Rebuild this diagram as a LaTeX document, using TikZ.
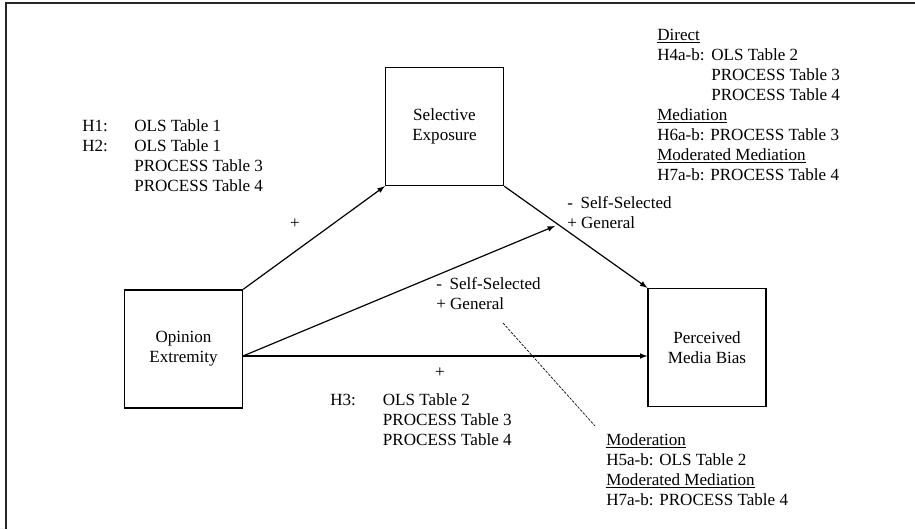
\documentclass[tikz,border=0pt]{standalone}
\usepackage{fontspec}
\setmainfont{Liberation Serif}
\usepackage{tikz}
\usetikzlibrary{positioning}

\tikzset{
  every node/.style={font=\fontsize{12.8}{15}\selectfont, inner sep=0pt},
  varbox/.style={draw, line width=1pt, minimum width=88.5pt, minimum height=88.5pt, align=center},
  path/.style={line width=0.9pt, ->, >=latex},
  note/.style={anchor=base west, align=left}
}

\begin{document}
\begin{tikzpicture}[x=0.75pt,y=-0.75pt]
\useasboundingbox (0,0) rectangle (915,529);
\draw [line width=1.5pt, black!85] (6,529) -- (6,3) -- (915,3);

% the three variables
\node [varbox] (opinion) at (183.5,349) {Opinion\\Extremity};
\node [varbox] (selective) at (444.5,126.5) {Selective\\Exposure};
\node [varbox] (bias) at (707,347.5) {Perceived\\Media Bias};

\coordinate (oe) at (243,356);
\coordinate (modtip) at (555,226);
\draw [path] (opinion.north east) -- (selective.south west);
\draw [path] (selective.south east) -- (bias.north west);
\draw [path] (oe) -- (modtip);
\draw [path] (oe) -- (oe -| bias.west);

\coordinate (dashA) at (503,323);
\coordinate (dashB) at (595,426);
\draw [dashed, dash pattern=on 2pt off 1pt, line width=0.5pt] (dashA) -- (dashB);

% signs
\node (plusA) at (295,224) {+};
\node (plusC) at (440,373) {+};
\node [note] (modA) at (567,208.5) {\begin{tabular}[t]{@{}l@{}}-\hspace{0.45em}Self-Selected\\+ General\end{tabular}};
\node [note] (modB) at (436,289.5) {\begin{tabular}[t]{@{}l@{}}-\hspace{0.45em}Self-Selected\\+ General\end{tabular}};

% hypotheses
\node [note] (hypA) at (82,131.5) {\begin{tabular}[t]{@{}p{39pt}@{}l@{}}
H1: & OLS Table 1\\ H2: & OLS Table 1\\ & PROCESS Table 3\\ & PROCESS Table 4\end{tabular}};
\node [note] (hypC) at (330,405.5) {\begin{tabular}[t]{@{}p{39.5pt}@{}l@{}}
H3: & OLS Table 2\\ & PROCESS Table 3\\ & PROCESS Table 4\end{tabular}};
\node [note] (hypD) at (657,40.5) {\begin{tabular}[t]{@{}p{40.5pt}@{}l@{}}
\multicolumn{2}{@{}l@{}}{\underline{Direct}}\\
H4a-b: & OLS Table 2\\ & PROCESS Table 3\\ & PROCESS Table 4\\
\multicolumn{2}{@{}l@{}}{\underline{Mediation}}\\
\multicolumn{2}{@{}l@{}}{H6a-b: PROCESS Table 3}\\
\multicolumn{2}{@{}l@{}}{\underline{Moderated Mediation}}\\
\multicolumn{2}{@{}l@{}}{H7a-b: PROCESS Table 4}\end{tabular}};
\node [note] (hypM) at (606,445.5) {\begin{tabular}[t]{@{}l@{}}
\underline{Moderation}\\ H5a-b: OLS Table 2\\
\underline{Moderated Mediation}\\ H7a-b: PROCESS Table 4\end{tabular}};
\end{tikzpicture}
\end{document}
